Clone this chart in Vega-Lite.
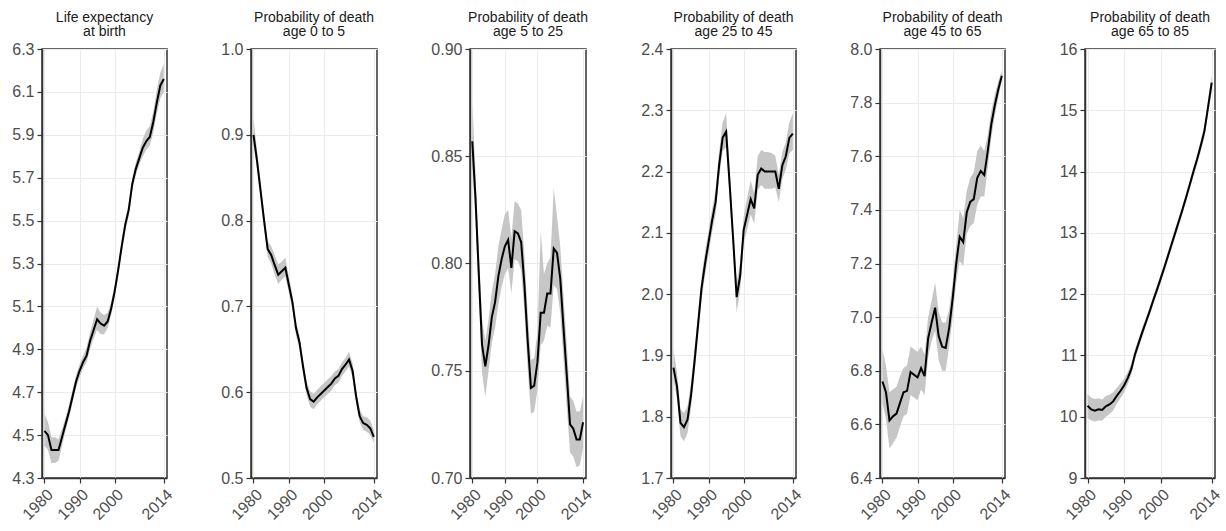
{
  "$schema": "https://vega.github.io/schema/vega-lite/v6.json",
  "background": "white",
  "padding": {"left": 11, "top": 10, "right": 0, "bottom": 0},
  "spacing": 44,
  "config": {
    "font": "Liberation Sans",
    "view": {"stroke": "#333333", "strokeWidth": 1.5, "fill": "white"},
    "axis": {
      "labelFont": "Liberation Sans", "labelFontSize": 16, "labelColor": "#4d4d4d",
      "tickColor": "#333333", "tickSize": 5, "tickWidth": 1.2, "labelPadding": 3,
      "domain": true, "domainColor": "#333333", "domainWidth": 1.5, "gridColor": "#ebebeb", "gridWidth": 1,
      "labelFlush": false, "labelOverlap": false, "labelBound": false
    },
    "title": {"font": "Liberation Sans", "fontSize": 14, "fontWeight": "normal", "color": "#1a1a1a", "offset": 2, "lineHeight": 14, "anchor": "middle"}
  },
  "datasets": {
    "le": [
      {"year":1980,"v":4.52,"lo":4.45,"hi":4.60},{"year":1981,"v":4.50,"lo":4.43,"hi":4.56},{"year":1982,"v":4.43,"lo":4.37,"hi":4.49},{"year":1983,"v":4.43,"lo":4.37,"hi":4.49},{"year":1984,"v":4.43,"lo":4.38,"hi":4.48},
      {"year":1985,"v":4.49,"lo":4.45,"hi":4.53},{"year":1986,"v":4.55,"lo":4.52,"hi":4.58},{"year":1987,"v":4.61,"lo":4.58,"hi":4.64},{"year":1988,"v":4.68,"lo":4.65,"hi":4.71},{"year":1989,"v":4.75,"lo":4.72,"hi":4.78},
      {"year":1990,"v":4.80,"lo":4.77,"hi":4.83},{"year":1991,"v":4.84,"lo":4.81,"hi":4.87},{"year":1992,"v":4.87,"lo":4.84,"hi":4.91},{"year":1993,"v":4.94,"lo":4.90,"hi":4.98},{"year":1994,"v":4.99,"lo":4.95,"hi":5.04},
      {"year":1995,"v":5.04,"lo":4.99,"hi":5.10},{"year":1996,"v":5.02,"lo":4.97,"hi":5.07},{"year":1997,"v":5.01,"lo":4.97,"hi":5.06},{"year":1998,"v":5.03,"lo":5.00,"hi":5.07},{"year":1999,"v":5.09,"lo":5.06,"hi":5.12},
      {"year":2000,"v":5.17,"lo":5.14,"hi":5.20},{"year":2001,"v":5.27,"lo":5.24,"hi":5.30},{"year":2002,"v":5.38,"lo":5.35,"hi":5.41},{"year":2003,"v":5.48,"lo":5.45,"hi":5.51},{"year":2004,"v":5.55,"lo":5.52,"hi":5.58},
      {"year":2005,"v":5.67,"lo":5.64,"hi":5.70},{"year":2006,"v":5.74,"lo":5.71,"hi":5.77},{"year":2007,"v":5.79,"lo":5.76,"hi":5.82},{"year":2008,"v":5.84,"lo":5.80,"hi":5.88},{"year":2009,"v":5.87,"lo":5.83,"hi":5.92},
      {"year":2010,"v":5.89,"lo":5.85,"hi":5.94},{"year":2011,"v":5.96,"lo":5.91,"hi":6.01},{"year":2012,"v":6.05,"lo":6.00,"hi":6.11},{"year":2013,"v":6.13,"lo":6.07,"hi":6.19},{"year":2014,"v":6.16,"lo":6.10,"hi":6.23}
    ],
    "d0": [
      {"year":1980,"v":0.900,"lo":0.888,"hi":0.920},{"year":1981,"v":0.870,"lo":0.860,"hi":0.882},{"year":1982,"v":0.835,"lo":0.826,"hi":0.845},{"year":1983,"v":0.800,"lo":0.791,"hi":0.809},{"year":1984,"v":0.767,"lo":0.758,"hi":0.776},
      {"year":1985,"v":0.760,"lo":0.750,"hi":0.770},{"year":1986,"v":0.748,"lo":0.737,"hi":0.760},{"year":1987,"v":0.737,"lo":0.726,"hi":0.749},{"year":1988,"v":0.741,"lo":0.731,"hi":0.752},{"year":1989,"v":0.745,"lo":0.735,"hi":0.757},
      {"year":1990,"v":0.725,"lo":0.716,"hi":0.735},{"year":1991,"v":0.705,"lo":0.697,"hi":0.714},{"year":1992,"v":0.675,"lo":0.667,"hi":0.683},{"year":1993,"v":0.658,"lo":0.650,"hi":0.666},{"year":1994,"v":0.630,"lo":0.622,"hi":0.638},
      {"year":1995,"v":0.605,"lo":0.597,"hi":0.613},{"year":1996,"v":0.592,"lo":0.583,"hi":0.601},{"year":1997,"v":0.589,"lo":0.580,"hi":0.598},{"year":1998,"v":0.594,"lo":0.586,"hi":0.603},{"year":1999,"v":0.598,"lo":0.590,"hi":0.607},
      {"year":2000,"v":0.602,"lo":0.594,"hi":0.611},{"year":2001,"v":0.606,"lo":0.598,"hi":0.615},{"year":2002,"v":0.610,"lo":0.602,"hi":0.619},{"year":2003,"v":0.616,"lo":0.608,"hi":0.624},{"year":2004,"v":0.619,"lo":0.611,"hi":0.627},
      {"year":2005,"v":0.627,"lo":0.619,"hi":0.635},{"year":2006,"v":0.632,"lo":0.624,"hi":0.640},{"year":2007,"v":0.638,"lo":0.630,"hi":0.647},{"year":2008,"v":0.625,"lo":0.617,"hi":0.634},{"year":2009,"v":0.595,"lo":0.587,"hi":0.603},
      {"year":2010,"v":0.572,"lo":0.565,"hi":0.580},{"year":2011,"v":0.564,"lo":0.556,"hi":0.572},{"year":2012,"v":0.562,"lo":0.554,"hi":0.571},{"year":2013,"v":0.558,"lo":0.550,"hi":0.567},{"year":2014,"v":0.548,"lo":0.541,"hi":0.556}
    ],
    "d5": [
      {"year":1980,"v":0.857,"lo":0.845,"hi":0.876},{"year":1981,"v":0.830,"lo":0.820,"hi":0.842},{"year":1982,"v":0.795,"lo":0.785,"hi":0.806},{"year":1983,"v":0.762,"lo":0.749,"hi":0.774},{"year":1984,"v":0.752,"lo":0.738,"hi":0.764},
      {"year":1985,"v":0.762,"lo":0.750,"hi":0.774},{"year":1986,"v":0.775,"lo":0.763,"hi":0.787},{"year":1987,"v":0.782,"lo":0.770,"hi":0.795},{"year":1988,"v":0.794,"lo":0.781,"hi":0.808},{"year":1989,"v":0.802,"lo":0.789,"hi":0.816},
      {"year":1990,"v":0.808,"lo":0.795,"hi":0.823},{"year":1991,"v":0.811,"lo":0.798,"hi":0.825},{"year":1992,"v":0.798,"lo":0.786,"hi":0.812},{"year":1993,"v":0.815,"lo":0.802,"hi":0.829},{"year":1994,"v":0.814,"lo":0.801,"hi":0.828},
      {"year":1995,"v":0.810,"lo":0.797,"hi":0.825},{"year":1996,"v":0.790,"lo":0.777,"hi":0.804},{"year":1997,"v":0.764,"lo":0.751,"hi":0.777},{"year":1998,"v":0.742,"lo":0.730,"hi":0.755},{"year":1999,"v":0.743,"lo":0.731,"hi":0.756},
      {"year":2000,"v":0.754,"lo":0.741,"hi":0.768},{"year":2001,"v":0.777,"lo":0.762,"hi":0.815},{"year":2002,"v":0.777,"lo":0.764,"hi":0.795},{"year":2003,"v":0.786,"lo":0.771,"hi":0.800},{"year":2004,"v":0.786,"lo":0.770,"hi":0.803},
      {"year":2005,"v":0.807,"lo":0.790,"hi":0.835},{"year":2006,"v":0.805,"lo":0.788,"hi":0.822},{"year":2007,"v":0.793,"lo":0.777,"hi":0.808},{"year":2008,"v":0.770,"lo":0.755,"hi":0.785},{"year":2009,"v":0.748,"lo":0.733,"hi":0.762},
      {"year":2010,"v":0.725,"lo":0.712,"hi":0.738},{"year":2011,"v":0.723,"lo":0.710,"hi":0.736},{"year":2012,"v":0.718,"lo":0.705,"hi":0.731},{"year":2013,"v":0.718,"lo":0.706,"hi":0.731},{"year":2014,"v":0.726,"lo":0.714,"hi":0.738}
    ],
    "d25": [
      {"year":1980,"v":1.880,"lo":1.860,"hi":1.910},{"year":1981,"v":1.850,"lo":1.830,"hi":1.872},{"year":1982,"v":1.790,"lo":1.768,"hi":1.812},{"year":1983,"v":1.783,"lo":1.760,"hi":1.806},{"year":1984,"v":1.795,"lo":1.773,"hi":1.817},
      {"year":1985,"v":1.835,"lo":1.815,"hi":1.855},{"year":1986,"v":1.890,"lo":1.870,"hi":1.910},{"year":1987,"v":1.950,"lo":1.931,"hi":1.969},{"year":1988,"v":2.010,"lo":1.991,"hi":2.029},{"year":1989,"v":2.050,"lo":2.031,"hi":2.069},
      {"year":1990,"v":2.085,"lo":2.066,"hi":2.104},{"year":1991,"v":2.120,"lo":2.101,"hi":2.139},{"year":1992,"v":2.150,"lo":2.130,"hi":2.170},{"year":1993,"v":2.210,"lo":2.189,"hi":2.232},{"year":1994,"v":2.255,"lo":2.233,"hi":2.280},
      {"year":1995,"v":2.265,"lo":2.240,"hi":2.295},{"year":1996,"v":2.180,"lo":2.158,"hi":2.202},{"year":1997,"v":2.090,"lo":2.068,"hi":2.112},{"year":1998,"v":1.995,"lo":1.970,"hi":2.018},{"year":1999,"v":2.030,"lo":2.008,"hi":2.052},
      {"year":2000,"v":2.105,"lo":2.083,"hi":2.127},{"year":2001,"v":2.130,"lo":2.105,"hi":2.158},{"year":2002,"v":2.155,"lo":2.130,"hi":2.185},{"year":2003,"v":2.140,"lo":2.115,"hi":2.165},{"year":2004,"v":2.195,"lo":2.170,"hi":2.225},
      {"year":2005,"v":2.205,"lo":2.178,"hi":2.235},{"year":2006,"v":2.200,"lo":2.172,"hi":2.232},{"year":2007,"v":2.200,"lo":2.172,"hi":2.232},{"year":2008,"v":2.200,"lo":2.172,"hi":2.230},{"year":2009,"v":2.200,"lo":2.174,"hi":2.226},
      {"year":2010,"v":2.172,"lo":2.150,"hi":2.195},{"year":2011,"v":2.210,"lo":2.188,"hi":2.232},{"year":2012,"v":2.225,"lo":2.203,"hi":2.248},{"year":2013,"v":2.255,"lo":2.230,"hi":2.280},{"year":2014,"v":2.262,"lo":2.235,"hi":2.295}
    ],
    "d45": [
      {"year":1980,"v":6.76,"lo":6.68,"hi":6.88},{"year":1981,"v":6.72,"lo":6.62,"hi":6.82},{"year":1982,"v":6.615,"lo":6.51,"hi":6.72},{"year":1983,"v":6.63,"lo":6.53,"hi":6.73},{"year":1984,"v":6.64,"lo":6.55,"hi":6.74},
      {"year":1985,"v":6.68,"lo":6.59,"hi":6.78},{"year":1986,"v":6.72,"lo":6.63,"hi":6.81},{"year":1987,"v":6.725,"lo":6.64,"hi":6.82},{"year":1988,"v":6.795,"lo":6.71,"hi":6.89},{"year":1989,"v":6.785,"lo":6.70,"hi":6.88},
      {"year":1990,"v":6.775,"lo":6.69,"hi":6.87},{"year":1991,"v":6.81,"lo":6.73,"hi":6.89},{"year":1992,"v":6.78,"lo":6.71,"hi":6.86},{"year":1993,"v":6.92,"lo":6.85,"hi":7.00},{"year":1994,"v":6.98,"lo":6.91,"hi":7.06},
      {"year":1995,"v":7.035,"lo":6.95,"hi":7.13},{"year":1996,"v":6.93,"lo":6.84,"hi":7.02},{"year":1997,"v":6.89,"lo":6.80,"hi":6.98},{"year":1998,"v":6.885,"lo":6.80,"hi":6.98},{"year":1999,"v":6.96,"lo":6.89,"hi":7.03},
      {"year":2000,"v":7.07,"lo":7.00,"hi":7.13},{"year":2001,"v":7.20,"lo":7.13,"hi":7.27},{"year":2002,"v":7.30,"lo":7.21,"hi":7.40},{"year":2003,"v":7.28,"lo":7.19,"hi":7.37},{"year":2004,"v":7.39,"lo":7.31,"hi":7.47},
      {"year":2005,"v":7.43,"lo":7.34,"hi":7.52},{"year":2006,"v":7.44,"lo":7.35,"hi":7.54},{"year":2007,"v":7.52,"lo":7.42,"hi":7.62},{"year":2008,"v":7.545,"lo":7.45,"hi":7.64},{"year":2009,"v":7.53,"lo":7.45,"hi":7.62},
      {"year":2010,"v":7.62,"lo":7.56,"hi":7.68},{"year":2011,"v":7.72,"lo":7.67,"hi":7.77},{"year":2012,"v":7.79,"lo":7.75,"hi":7.83},{"year":2013,"v":7.85,"lo":7.82,"hi":7.88},{"year":2014,"v":7.90,"lo":7.88,"hi":7.92}
    ],
    "d65": [
      {"year":1980,"v":10.18,"lo":9.98,"hi":10.37},{"year":1981,"v":10.12,"lo":9.94,"hi":10.31},{"year":1982,"v":10.10,"lo":9.92,"hi":10.29},{"year":1983,"v":10.12,"lo":9.94,"hi":10.30},{"year":1984,"v":10.11,"lo":9.94,"hi":10.28},
      {"year":1985,"v":10.17,"lo":10.00,"hi":10.34},{"year":1986,"v":10.20,"lo":10.04,"hi":10.36},{"year":1987,"v":10.25,"lo":10.10,"hi":10.40},{"year":1988,"v":10.34,"lo":10.21,"hi":10.47},{"year":1989,"v":10.42,"lo":10.30,"hi":10.54},
      {"year":1990,"v":10.51,"lo":10.40,"hi":10.62},{"year":1991,"v":10.63,"lo":10.53,"hi":10.73},{"year":1992,"v":10.78,"lo":10.69,"hi":10.87},{"year":1993,"v":11.02,"lo":10.94,"hi":11.10},{"year":1994,"v":11.20,"lo":11.12,"hi":11.28},
      {"year":1995,"v":11.38,"lo":11.30,"hi":11.46},{"year":1996,"v":11.55,"lo":11.48,"hi":11.62},{"year":1997,"v":11.72,"lo":11.65,"hi":11.79},{"year":1998,"v":11.90,"lo":11.83,"hi":11.97},{"year":1999,"v":12.07,"lo":12.00,"hi":12.14},
      {"year":2000,"v":12.25,"lo":12.18,"hi":12.32},{"year":2001,"v":12.43,"lo":12.36,"hi":12.50},{"year":2002,"v":12.62,"lo":12.55,"hi":12.69},{"year":2003,"v":12.81,"lo":12.74,"hi":12.88},{"year":2004,"v":13.00,"lo":12.93,"hi":13.07},
      {"year":2005,"v":13.19,"lo":13.12,"hi":13.26},{"year":2006,"v":13.38,"lo":13.31,"hi":13.45},{"year":2007,"v":13.58,"lo":13.51,"hi":13.65},{"year":2008,"v":13.79,"lo":13.72,"hi":13.86},{"year":2009,"v":14.00,"lo":13.92,"hi":14.08},
      {"year":2010,"v":14.20,"lo":14.12,"hi":14.28},{"year":2011,"v":14.42,"lo":14.33,"hi":14.51},{"year":2012,"v":14.66,"lo":14.56,"hi":14.76},{"year":2013,"v":15.05,"lo":14.94,"hi":15.16},{"year":2014,"v":15.45,"lo":15.32,"hi":15.58}
    ]
  },
  "hconcat": [
    {
      "width": 125, "height": 429,
      "title": {"text": ["Life expectancy", "at birth"]},
      "data": {"name": "le"},
      "encoding": {"x": {"field": "year", "type": "quantitative", "scale": {"domain": [1979.3, 2014.9], "nice": false, "zero": false}, "axis": {"values": [1980, 1990, 2000, 2014], "format": "d", "labelAngle": -45, "labelAlign": "right", "labelBaseline": "top", "title": null}}},
      "layer": [
        {"mark": {"type": "area", "color": "#c6c6c6", "opacity": 1}, "encoding": {"y": {"field": "lo", "type": "quantitative", "scale": {"domain": [4.3, 6.3], "nice": false, "zero": false}, "axis": {"values": [4.3, 4.5, 4.7, 4.9, 5.1, 5.3, 5.5, 5.7, 5.9, 6.1, 6.3], "format": ".1f", "title": null}}, "y2": {"field": "hi"}}},
        {"mark": {"type": "line", "color": "#000000", "strokeWidth": 2}, "encoding": {"y": {"field": "v", "type": "quantitative", "title": null}}}
      ]
    },
    {
      "width": 126, "height": 429,
      "title": {"text": ["Probability of death", "age 0 to 5"]},
      "data": {"name": "d0"},
      "encoding": {"x": {"field": "year", "type": "quantitative", "scale": {"domain": [1979.3, 2014.9], "nice": false, "zero": false}, "axis": {"values": [1980, 1990, 2000, 2014], "format": "d", "labelAngle": -45, "labelAlign": "right", "labelBaseline": "top", "title": null}}},
      "layer": [
        {"mark": {"type": "area", "color": "#c6c6c6", "opacity": 1}, "encoding": {"y": {"field": "lo", "type": "quantitative", "scale": {"domain": [0.5, 1.0], "nice": false, "zero": false}, "axis": {"values": [0.5, 0.6, 0.7, 0.8, 0.9, 1.0], "format": ".1f", "title": null}}, "y2": {"field": "hi"}}},
        {"mark": {"type": "line", "color": "#000000", "strokeWidth": 2}, "encoding": {"y": {"field": "v", "type": "quantitative", "title": null}}}
      ]
    },
    {
      "width": 116, "height": 429,
      "title": {"text": ["Probability of death", "age 5 to 25"]},
      "data": {"name": "d5"},
      "encoding": {"x": {"field": "year", "type": "quantitative", "scale": {"domain": [1979.3, 2014.9], "nice": false, "zero": false}, "axis": {"values": [1980, 1990, 2000, 2014], "format": "d", "labelAngle": -45, "labelAlign": "right", "labelBaseline": "top", "title": null}}},
      "layer": [
        {"mark": {"type": "area", "color": "#c6c6c6", "opacity": 1}, "encoding": {"y": {"field": "lo", "type": "quantitative", "scale": {"domain": [0.7, 0.9], "nice": false, "zero": false}, "axis": {"values": [0.7, 0.75, 0.8, 0.85, 0.9], "format": ".2f", "title": null}}, "y2": {"field": "hi"}}},
        {"mark": {"type": "line", "color": "#000000", "strokeWidth": 2}, "encoding": {"y": {"field": "v", "type": "quantitative", "title": null}}}
      ]
    },
    {
      "width": 125, "height": 429,
      "title": {"text": ["Probability of death", "age 25 to 45"]},
      "data": {"name": "d25"},
      "encoding": {"x": {"field": "year", "type": "quantitative", "scale": {"domain": [1979.3, 2014.9], "nice": false, "zero": false}, "axis": {"values": [1980, 1990, 2000, 2014], "format": "d", "labelAngle": -45, "labelAlign": "right", "labelBaseline": "top", "title": null}}},
      "layer": [
        {"mark": {"type": "area", "color": "#c6c6c6", "opacity": 1}, "encoding": {"y": {"field": "lo", "type": "quantitative", "scale": {"domain": [1.7, 2.4], "nice": false, "zero": false}, "axis": {"values": [1.7, 1.8, 1.9, 2.0, 2.1, 2.2, 2.3, 2.4], "format": ".1f", "title": null}}, "y2": {"field": "hi"}}},
        {"mark": {"type": "line", "color": "#000000", "strokeWidth": 2}, "encoding": {"y": {"field": "v", "type": "quantitative", "title": null}}}
      ]
    },
    {
      "width": 125, "height": 429,
      "title": {"text": ["Probability of death", "age 45 to 65"]},
      "data": {"name": "d45"},
      "encoding": {"x": {"field": "year", "type": "quantitative", "scale": {"domain": [1979.3, 2014.9], "nice": false, "zero": false}, "axis": {"values": [1980, 1990, 2000, 2014], "format": "d", "labelAngle": -45, "labelAlign": "right", "labelBaseline": "top", "title": null}}},
      "layer": [
        {"mark": {"type": "area", "color": "#c6c6c6", "opacity": 1}, "encoding": {"y": {"field": "lo", "type": "quantitative", "scale": {"domain": [6.4, 8.0], "nice": false, "zero": false}, "axis": {"values": [6.4, 6.6, 6.8, 7.0, 7.2, 7.4, 7.6, 7.8, 8.0], "format": ".1f", "title": null}}, "y2": {"field": "hi"}}},
        {"mark": {"type": "line", "color": "#000000", "strokeWidth": 2}, "encoding": {"y": {"field": "v", "type": "quantitative", "title": null}}}
      ]
    },
    {
      "width": 130, "height": 429,
      "title": {"text": ["Probability of death", "age 65 to 85"]},
      "data": {"name": "d65"},
      "encoding": {"x": {"field": "year", "type": "quantitative", "scale": {"domain": [1979.3, 2014.9], "nice": false, "zero": false}, "axis": {"values": [1980, 1990, 2000, 2014], "format": "d", "labelAngle": -45, "labelAlign": "right", "labelBaseline": "top", "title": null}}},
      "layer": [
        {"mark": {"type": "area", "color": "#c6c6c6", "opacity": 1}, "encoding": {"y": {"field": "lo", "type": "quantitative", "scale": {"domain": [9, 16], "nice": false, "zero": false}, "axis": {"values": [9, 10, 11, 12, 13, 14, 15, 16], "format": "d", "title": null}}, "y2": {"field": "hi"}}},
        {"mark": {"type": "line", "color": "#000000", "strokeWidth": 2}, "encoding": {"y": {"field": "v", "type": "quantitative", "title": null}}}
      ]
    }
  ]
}
